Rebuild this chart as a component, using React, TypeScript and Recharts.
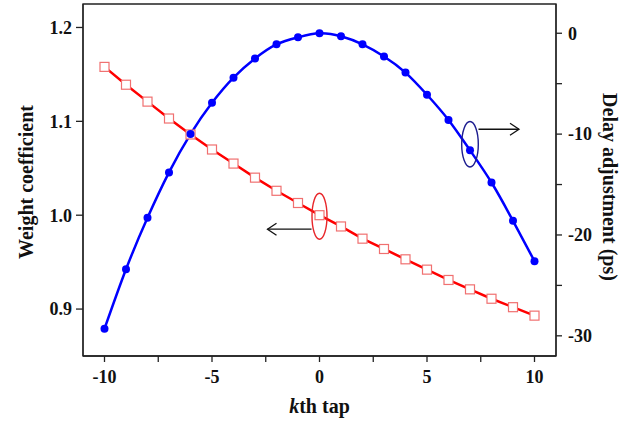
import {
  ComposedChart,
  Line,
  XAxis,
  YAxis,
  ReferenceArea,
  ReferenceDot,
  Label,
} from 'recharts';

const taps = [-10, -9, -8, -7, -6, -5, -4, -3, -2, -1, 0, 1, 2, 3, 4, 5, 6, 7, 8, 9, 10];
const weight = [
  1.158, 1.139, 1.121, 1.103, 1.086, 1.070, 1.055, 1.040, 1.026, 1.013, 1.000,
  0.988, 0.975, 0.964, 0.953, 0.942, 0.931, 0.921, 0.911, 0.902, 0.893,
];
const delay = [
  -29.3, -23.4, -18.3, -13.8, -10.0, -6.9, -4.4, -2.5, -1.1, -0.4, 0,
  -0.3, -1.1, -2.3, -3.9, -6.1, -8.6, -11.6, -14.8, -18.6, -22.6,
];
const xTicks = [-10, -7.5, -5, -2.5, 0, 2.5, 5, 7.5, 10];
const leftTicks = [0.9, 1.0, 1.1, 1.2];
const rightTicks = [0, -5, -10, -15, -20, -25, -30];

const FONT = '"Liberation Serif", "Times New Roman", serif';
const AXIS = '#222';

const data = taps.map((tap, i) => ({ tap, weight: weight[i], delay: delay[i] }));

const tickStyle = { fontFamily: FONT, fontWeight: 700, fontSize: 18, fill: '#111' };
const titleStyle = { fontFamily: FONT, fontWeight: 700, fontSize: 20, fill: '#111', textAnchor: 'middle' as const };

function SquareDot(props: any) {
  const { cx, cy } = props;
  if (cx == null || cy == null) return null;
  return (
    <rect x={cx - 4.5} y={cy - 4.5} width={9} height={9} fill="#fff" stroke="#f07070" strokeWidth={1.2} />
  );
}

function RedMark(props: any) {
  const { cx, cy } = props;
  const ay = cy + 14;
  const tip = cx - 52;
  return (
    <g>
      <ellipse cx={cx} cy={cy + 1} rx={7.5} ry={23} fill="none" stroke="#e8262a" strokeWidth={1.4} />
      <line x1={cx - 8} y1={ay} x2={tip} y2={ay} stroke="#111" strokeWidth={1.3} />
      <polyline points={`${tip + 9},${ay - 6} ${tip},${ay} ${tip + 9},${ay + 6}`} fill="none" stroke="#111" strokeWidth={1.3} />
    </g>
  );
}

function BlueMark(props: any) {
  const { cx, cy } = props;
  const ay = cy - 21;
  const tip = cx + 49;
  return (
    <g>
      <ellipse cx={cx} cy={cy - 6} rx={8.3} ry={22.7} fill="none" stroke="#1c1c8f" strokeWidth={1.4} />
      <line x1={cx + 8.5} y1={ay} x2={tip} y2={ay} stroke="#111" strokeWidth={1.3} />
      <polyline points={`${tip - 9},${ay - 6} ${tip},${ay} ${tip - 9},${ay + 6}`} fill="none" stroke="#111" strokeWidth={1.3} />
    </g>
  );
}

function XTitle(props: any) {
  const { viewBox } = props;
  const x = viewBox.x + viewBox.width / 2;
  return (
    <text x={x} y={413} textAnchor="middle" fontFamily={FONT} fontWeight={700} fontSize={20} fill="#111">
      <tspan fontStyle="italic">k</tspan>
      <tspan>th tap</tspan>
    </text>
  );
}

export default function App() {
  return (
    <div style={{ position: 'absolute', left: 0, top: 0, background: '#fff' }}>
      <ComposedChart width={632} height={422} data={data} margin={{ top: 4, right: 0, left: 0, bottom: 0 }}>
        <XAxis
          dataKey="tap"
          type="number"
          domain={[-11, 11]}
          ticks={xTicks}
          tickFormatter={(v: number) => (Number.isInteger(v) ? String(v) : '')}
          height={66}
          tick={tickStyle}
          tickSize={6}
          tickMargin={8}
          stroke={AXIS}
          strokeWidth={1.3}
        >
          <Label content={XTitle} />
        </XAxis>
        <YAxis
          yAxisId="left"
          domain={[0.85, 1.225]}
          ticks={leftTicks}
          tickFormatter={(v: number) => v.toFixed(1)}
          width={83}
          tick={tickStyle}
          tickSize={7}
          tickMargin={4}
          stroke={AXIS}
          strokeWidth={1.3}
          allowDataOverflow
        >
          <Label value="Weight coefficient" angle={-90} position="center" dx={-16} dy={2} style={titleStyle} />
        </YAxis>
        <YAxis
          yAxisId="right"
          orientation="right"
          domain={[-32, 2.9]}
          ticks={rightTicks}
          tickFormatter={(v: number) => (v % 10 === 0 ? String(v) : '')}
          width={76}
          tick={{ ...tickStyle, textAnchor: 'start' }}
          tickSize={6}
          tickMargin={6}
          stroke={AXIS}
          strokeWidth={1.3}
          allowDataOverflow
        >
          <Label value="Delay adjustment (ps)" angle={90} position="center" dx={16} dy={7} style={titleStyle} />
        </YAxis>
        <ReferenceArea
          yAxisId="left"
          x1={-11}
          x2={11}
          y1={0.85}
          y2={1.225}
          fill="none"
          fillOpacity={0}
          stroke={AXIS}
          strokeWidth={1.3}
        />
        <Line
          yAxisId="left"
          dataKey="weight"
          type="linear"
          stroke="#ff0000"
          strokeWidth={2.5}
          dot={<SquareDot />}
          isAnimationActive={false}
        />
        <Line
          yAxisId="right"
          dataKey="delay"
          type="natural"
          stroke="#0000ff"
          strokeWidth={2.5}
          dot={{ r: 4, fill: '#0000ff', stroke: 'none' }}
          isAnimationActive={false}
        />
        <ReferenceDot yAxisId="left" x={0} y={1.0} shape={RedMark} />
        <ReferenceDot yAxisId="right" x={7} y={-11.6} shape={BlueMark} />
      </ComposedChart>
    </div>
  );
}
